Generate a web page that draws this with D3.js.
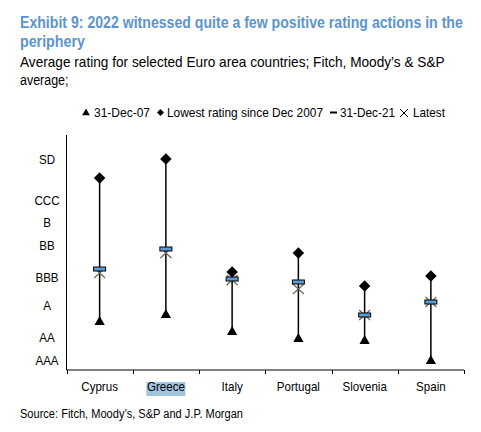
<!DOCTYPE html>
<html>
<head>
<meta charset="utf-8">
<script src="https://cdn.jsdelivr.net/npm/d3@7"></script>
<style>
  html, body { margin: 0; padding: 0; background: #fff; }
  svg text { font-family: "Liberation Sans", Arial, sans-serif; }
</style>
</head>
<body>
<svg id="chart" width="481" height="432"></svg>
<script>
// ---- Data (rating scale in notches, AAA ≈ 1, SD ≈ 21) ----
const countries = ["Cyprus", "Greece", "Italy", "Portugal", "Slovenia", "Spain"];
const dec07   = [4.8, 5.5, 3.8, 3.1, 2.9, 0.9];      // triangle
const lowest  = [19.2, 21.1, 9.8, 11.7, 8.4, 9.4];   // diamond
const dec21   = [10.1, 12.1, 9.1, 8.8, 5.5, 6.8];    // dash
const latest  = [9.7, 11.7, 9.0, 8.1, 5.5, 6.8];     // cross
const ratingLabels = ["AAA", "AA", "A", "BBB", "BB", "B", "CCC", "SD"];
const ratingPos    = [1.0, 3.3, 6.5, 9.3, 12.5, 14.8, 17.0, 21.1];
const legendLabels = ["31-Dec-07", "Lowest rating since Dec 2007", "31-Dec-21", "Latest"];

(function () {
const svg = d3.select("#chart");
const pLeft = 66.5, pRight = 464, pTop = 135, pBottom = 370;
const squeeze = 0.89;

function fitTo(sel, w) {
  sel.attr("textLength", w).attr("lengthAdjust", "spacingAndGlyphs");
}
function condense(sel) {
  sel.each(function () {
    const w = this.getComputedTextLength();
    d3.select(this).attr("textLength", w * squeeze).attr("lengthAdjust", "spacingAndGlyphs");
  });
}
// place text at (x0, y0) scaled horizontally so it spans width w
function scaledText(x0, y0, w, size, weight, fill, str) {
  const t = svg.append("text").attr("x", 0).attr("y", 0)
    .attr("font-size", size).attr("font-weight", weight).attr("fill", fill).text(str);
  const nat = t.node().getComputedTextLength();
  t.attr("transform", `translate(${x0},${y0}) scale(${w / nat},1)`);
  return t;
}

const x = d3.scaleBand().domain(countries).range([pLeft, pRight]).padding(0);
const y = d3.scaleLinear().domain([0, 23.5]).range([pBottom, pTop]);

// Title
scaledText(20, 28, 443, 16, "bold", "#5b95cf",
  "Exhibit 9: 2022 witnessed quite a few positive rating actions in the");
const t2 = svg.append("text").attr("x", 20).attr("y", 47)
  .attr("font-size", 16).attr("font-weight", "bold").attr("fill", "#5b95cf")
  .text("periphery");
condense(t2);
scaledText(20, 67, 425, 14, "normal", "#000",
  "Average rating for selected Euro area countries; Fitch, Moody\u2019s & S&P");
const s2 = svg.append("text").attr("x", 20).attr("y", 85)
  .attr("font-size", 14).attr("fill", "#000")
  .text("average;");
condense(s2);

// Legend
const lg = svg.append("g").attr("font-size", 13);
const ly = 117;
lg.append("path").attr("d", d3.symbol(d3.symbolTriangle, 26)())
  .attr("transform", `translate(86,${ly - 4})`).attr("fill", "#000");
fitTo(lg.append("text").attr("x", 94).attr("y", ly).text(legendLabels[0]), 56);
lg.append("path").attr("d", d3.symbol(d3.symbolSquare, 24)())
  .attr("transform", `translate(160.5,${ly - 4.5}) rotate(45)`).attr("fill", "#000");
fitTo(lg.append("text").attr("x", 167).attr("y", ly).text(legendLabels[1]), 156);
lg.append("line").attr("x1", 330).attr("x2", 337).attr("y1", ly - 4.5).attr("y2", ly - 4.5)
  .attr("stroke", "#000").attr("stroke-width", 2);
fitTo(lg.append("text").attr("x", 340).attr("y", ly).text(legendLabels[2]), 55);
lg.append("path").attr("d", `M400,${ly - 8}L408,${ly}M400,${ly}L408,${ly - 8}`)
  .attr("stroke", "#000").attr("stroke-width", 1);
fitTo(lg.append("text").attr("x", 413).attr("y", ly).text(legendLabels[3]), 32);

// Greece highlight (behind axis labels)
svg.append("rect").attr("x", x("Greece") + x.bandwidth() / 2 - 19.5).attr("y", 382)
  .attr("width", 39).attr("height", 14).attr("fill", "#a3c4de");

// Axes
svg.append("line").attr("x1", pLeft).attr("x2", pLeft).attr("y1", pTop).attr("y2", pBottom)
  .attr("stroke", "#000").attr("stroke-width", 1);
const xAxis = d3.axisBottom(x).tickSize(0).tickPadding(12);
const gx = svg.append("g").attr("transform", `translate(0,${pBottom})`).call(xAxis);
gx.select(".domain").remove();
gx.selectAll("text").attr("font-size", 13).attr("fill", "#000")
  .attr("font-family", "Liberation Sans, Arial, sans-serif");
condense(gx.selectAll("text"));
svg.append("line").attr("x1", pLeft).attr("x2", pRight).attr("y1", pBottom).attr("y2", pBottom)
  .attr("stroke", "#000").attr("stroke-width", 1);
const bounds = countries.map(c => x(c)).concat([pRight]);
svg.selectAll(".btick").data(bounds).join("line").attr("class", "btick")
  .attr("x1", d => Math.round(d) + 0.5).attr("x2", d => Math.round(d) + 0.5)
  .attr("y1", pBottom).attr("y2", pBottom + 4).attr("stroke", "#000");

// Y labels
const yl = svg.append("g").selectAll("text").data(ratingLabels).join("text")
  .attr("x", 47).attr("y", (d, i) => y(ratingPos[i]))
  .attr("dy", "0.36em").attr("text-anchor", "middle").attr("font-size", 13)
  .text(d => d);
condense(yl);

// Marks
const cx = c => x(c) + x.bandwidth() / 2;
const g = svg.append("g");
countries.forEach((c, i) => {
  const px = cx(c);
  g.append("line").attr("x1", px).attr("x2", px)
    .attr("y1", y(lowest[i])).attr("y2", y(dec07[i]))
    .attr("stroke", "#000").attr("stroke-width", 1.5);
  g.append("path").attr("d", d3.symbol(d3.symbolTriangle, 46)())
    .attr("transform", `translate(${px},${y(dec07[i])})`).attr("fill", "#000");
  g.append("path").attr("d", d3.symbol(d3.symbolSquare, 66)())
    .attr("transform", `translate(${px},${y(lowest[i])}) rotate(45)`).attr("fill", "#000");
  const ly2 = y(latest[i]);
  g.append("path").attr("d", `M${px - 5.5},${ly2 - 5}L${px + 5.5},${ly2 + 5}M${px - 5.5},${ly2 + 5}L${px + 5.5},${ly2 - 5}`)
    .attr("stroke", "#6f6453").attr("stroke-width", 1.2).attr("fill", "none");
  const dy2 = y(dec21[i]);
  g.append("rect").attr("x", px - 6).attr("y", dy2 - 2).attr("width", 12).attr("height", 4)
    .attr("fill", "#5b9bd5").attr("stroke", "#000").attr("stroke-width", 1);
});

// Source
const src = svg.append("text").attr("x", 20).attr("y", 418).attr("font-size", 12)
  .text("Source: Fitch, Moody\u2019s, S&P and J.P. Morgan");
fitTo(src, 223);
})();
</script>
</body>
</html>
